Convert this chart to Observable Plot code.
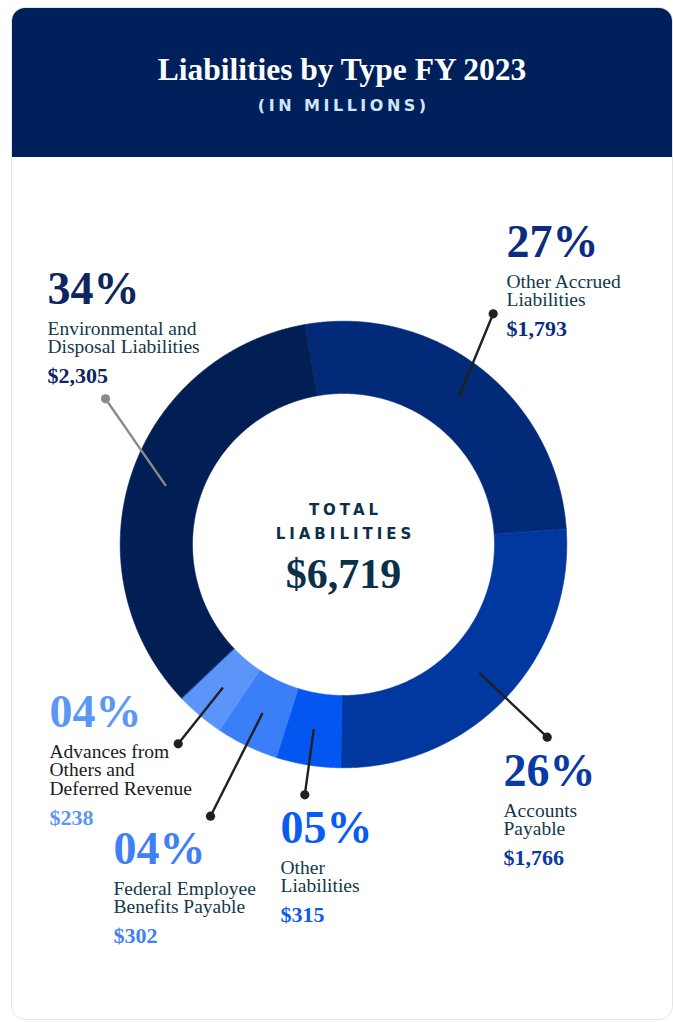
<!DOCTYPE html>
<html>
<head>
<meta charset="utf-8">
<script src="https://cdn.jsdelivr.net/npm/d3@7"></script>
<script src="https://cdn.jsdelivr.net/npm/@observablehq/plot@0.6"></script>
<style>
  html, body { margin: 0; padding: 0; background: #ffffff; }
  #card {
    position: absolute; left: 11px; top: 7px; width: 662px; height: 1013px;
    box-sizing: border-box; border: 1px solid #e4e4e4; border-radius: 14px;
    overflow: hidden; background: #ffffff;
  }
  #head { height: 149px; background: #00205b; text-align: center; }
  #title {
    font-family: "Liberation Serif", serif; font-weight: bold; font-size: 31.5px;
    color: #ffffff; line-height: 1; padding-top: 46px;
  }
  #sub {
    font-family: "DejaVu Sans", sans-serif; font-weight: bold; font-size: 16px;
    letter-spacing: 3.5px; color: #cfe6f7; line-height: 1; margin-top: 12px;
    padding-left: 3.5px;
  }
  #chart svg { display: block; }
</style>
</head>
<body>
<div id="card">
  <div id="head">
    <div id="title">Liabilities by Type FY 2023</div>
    <div id="sub">(IN MILLIONS)</div>
  </div>
  <div id="chart"></div>
</div>
<script>
// ---------- data ----------
const categories = [
  "Other Accrued Liabilities",
  "Accounts Payable",
  "Other Liabilities",
  "Federal Employee Benefits Payable",
  "Advances from Others and Deferred Revenue",
  "Environmental and Disposal Liabilities"
];
const values = [1793, 1766, 315, 302, 238, 2305];
const nameLines = [
  "Other Accrued\nLiabilities",
  "Accounts\nPayable",
  "Other\nLiabilities",
  "Federal Employee\nBenefits Payable",
  "Advances from\nOthers and\nDeferred Revenue",
  "Environmental and\nDisposal Liabilities"
];
const centerLines = ["TOTAL", "LIABILITIES"];

// ---------- styles ----------
const sliceColors  = ["#022a78", "#0038a0", "#0356ef", "#3a7ff8", "#5b95f9", "#021f55"];
const pctColors    = ["#0a2d80", "#0a3aa3", "#0a5cf0", "#3f80f5", "#5c97f6", "#0d2560"];
const nameColors   = ["#143849", "#143849", "#143849", "#143849", "#1b1b1b", "#143849"];
const leaderColors = ["#231f20", "#231f20", "#231f20", "#231f20", "#231f20", "#8b8b8b"];

// ---------- layout (page pixels) ----------
const center = {x: 343, y: 544};
const outerR = 223.3, innerR = 151, leaderR = 187;
const startDeg = -10;
const labelLayout = [
  {x: 506, pct: 256,   dot: [492.7, 313.3]},
  {x: 503, pct: 785.5, dot: [546.7, 736.7]},
  {x: 280, pct: 842.5, dot: [304.3, 794.3]},
  {x: 113, pct: 863,   dot: [210,   815.7]},
  {x: 49,  pct: 726.5, dot: [177.7, 743.3]},
  {x: 47,  pct: 303,   dot: [105,   398.3]}
];
const nameGap = 31, lineStep = 18.3, valueGap = 30;
const nameSize = 19.5, pctSize = 46, valueSize = 22;

const W = 660, H = 862, svgLeft = 12, svgTop = 157;
const ux = px => px - center.x;
const uy = py => center.y - py;

// ---------- derived ----------
const total = d3.sum(values);
const rows = categories.map((c, i) => ({category: c, value: values[i]}));
const a0 = startDeg * Math.PI / 180;
const arcs = d3.pie().sort(null).value(d => d.value).startAngle(a0).endAngle(a0 + 2 * Math.PI)(rows);

const poly = arcs.flatMap(a => {
  const n = Math.max(4, Math.ceil((a.endAngle - a.startAngle) / 0.004));
  const pts = [];
  for (let k = 0; k <= n; k++) {
    const t = a.startAngle + (a.endAngle - a.startAngle) * k / n;
    pts.push({category: a.data.category, x: outerR * Math.sin(t), y: outerR * Math.cos(t)});
  }
  for (let k = n; k >= 0; k--) {
    const t = a.startAngle + (a.endAngle - a.startAngle) * k / n;
    pts.push({category: a.data.category, x: innerR * Math.sin(t), y: innerR * Math.cos(t)});
  }
  return pts;
});

const pctFmt = v => String(Math.round(v / total * 100)).padStart(2, "0") + "%";
const valFmt = d3.format("$,");

const marks = [
  Plot.line(poly, {
    x: "x", y: "y", z: "category", fill: "category", stroke: "category",
    strokeWidth: 0.6, curve: "linear-closed"
  })
];

arcs.forEach((a, i) => {
  const L = labelLayout[i];
  const m = (a.startAngle + a.endAngle) / 2;
  const nLines = nameLines[i].split("\n").length;
  const nameFirst = L.pct + nameGap;
  const nameLast = nameFirst + (nLines - 1) * lineStep;
  const valueBase = nameLast + valueGap;
  const d = {
    x1: leaderR * Math.sin(m), y1: leaderR * Math.cos(m),
    x2: ux(L.dot[0]), y2: uy(L.dot[1]),
    lx: ux(L.x), pctY: uy(L.pct), nameY: uy(nameLast), valY: uy(valueBase),
    pct: pctFmt(a.data.value), name: nameLines[i], val: valFmt(a.data.value)
  };
  marks.push(
    Plot.link([d], {x1: "x1", y1: "y1", x2: "x2", y2: "y2", stroke: leaderColors[i], strokeWidth: 2.4}),
    Plot.dot([d], {x: "x2", y: "y2", r: 4.6, fill: leaderColors[i], stroke: "none"}),
    Plot.text([d], {x: "lx", y: "pctY", text: "pct", textAnchor: "start", lineAnchor: "bottom",
      fontFamily: "Liberation Serif", fontWeight: "bold", fontSize: pctSize, fill: pctColors[i]}),
    Plot.text([d], {x: "lx", y: "nameY", text: "name", textAnchor: "start", lineAnchor: "bottom",
      lineHeight: lineStep / nameSize,
      fontFamily: "Liberation Serif", fontSize: nameSize, fill: nameColors[i]}),
    Plot.text([d], {x: "lx", y: "valY", text: "val", textAnchor: "start", lineAnchor: "bottom",
      fontFamily: "Liberation Serif", fontWeight: "bold", fontSize: valueSize, fill: pctColors[i]})
  );
});

const centerRows = [
  {t: centerLines[0], y: uy(514)},
  {t: centerLines[1], y: uy(538.7)}
];
marks.push(
  Plot.text(centerRows, {x: () => 0, y: "y", text: "t", textAnchor: "middle", lineAnchor: "bottom",
    dx: 2, fontFamily: "DejaVu Sans", fontWeight: "bold", fontSize: 15, fill: "#0b3049"}),
  Plot.text([{t: valFmt(total), y: uy(587)}], {x: () => 0, y: "y", text: "t", textAnchor: "middle",
    lineAnchor: "bottom", fontFamily: "Liberation Serif", fontWeight: "bold", fontSize: 42, fill: "#0b3049"})
);

const chart = Plot.plot({
  width: W, height: H, margin: 0,
  x: {domain: [svgLeft - center.x, svgLeft + W - center.x], axis: null},
  y: {domain: [center.y - (svgTop + H), center.y - svgTop], axis: null},
  color: {domain: categories, range: sliceColors},
  style: {background: "transparent", overflow: "visible"},
  marks
});

d3.select(chart).selectAll("text")
  .filter(function () { return centerLines.includes(this.textContent); })
  .attr("letter-spacing", "4px");

document.getElementById("chart").appendChild(chart);
</script>
</body>
</html>
